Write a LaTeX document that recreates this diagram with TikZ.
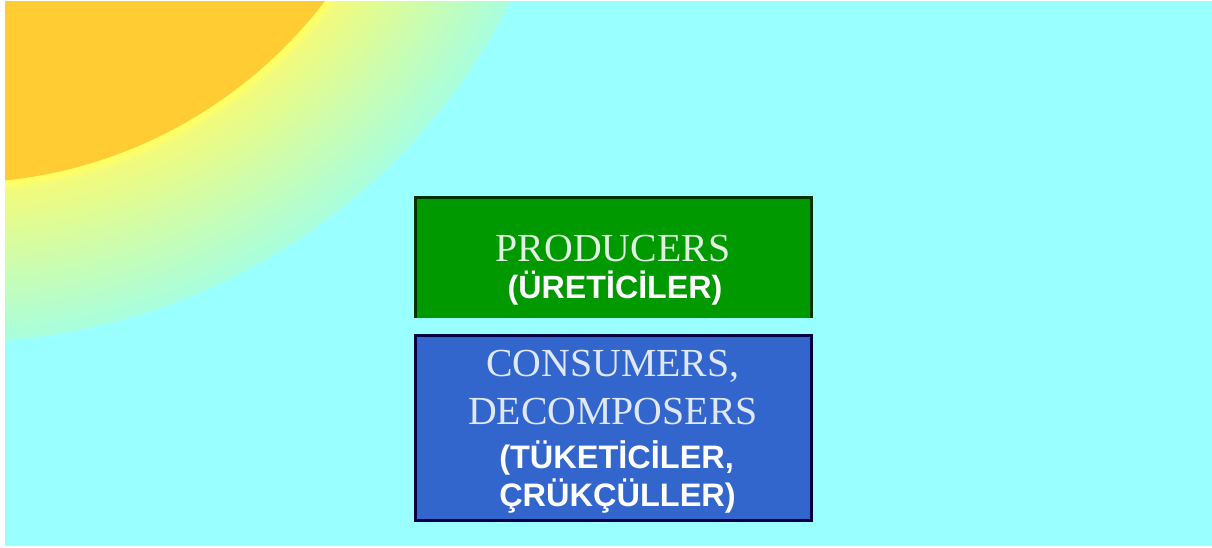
\documentclass[tikz,border=0pt]{standalone}
\usepackage{fontspec}
\setmainfont{Liberation Serif}
\newfontfamily\labelsans{Liberation Sans}
\definecolor{skycol}{HTML}{99FFFF}
\definecolor{suncol}{HTML}{FFCC33}
\definecolor{rimcol}{HTML}{FFFF66}
\definecolor{glowin}{HTML}{F2FB7C}
\definecolor{glowout}{HTML}{A8FEDF}
\definecolor{prodfill}{HTML}{009900}
\definecolor{prodedge}{HTML}{003300}
\definecolor{consfill}{HTML}{3366CC}
\definecolor{consedge}{HTML}{000044}
\tikzset{
  boxbase/.style={rectangle,inner sep=0pt,outer sep=0pt},
  serifline/.style={font=\fontsize{39.8}{47.3}\selectfont,align=center,inner sep=0pt,outer sep=0pt},
  sansline/.style={text=white,font=\labelsans\bfseries\fontsize{32.2}{38.7}\selectfont,align=left,inner sep=0pt,outer sep=0pt}
}
\begin{document}
\begin{tikzpicture}[x=1pt,y=-1pt]
\useasboundingbox (0,0) rectangle (1212,547);
\fill[white] (0,0) rectangle (1212,547);
\fill[skycol] (5,1) rectangle (1212,546);
\begin{scope}
  \clip (5,1) rectangle (1212,546);
  \coordinate (suncentre) at (-43.5,-281);
  \coordinate (glowcentre) at (-44.5,-280);
  \foreach \r [evaluate=\r as \p using {(\r-474)/148.5*100}] in {622.5,621.5,...,474.5}
    \fill[glowout!\p!glowin] (glowcentre) circle[radius=\r pt];
  \foreach \r [evaluate=\r as \p using {(\r-469)/5*100}] in {474,473,...,469}
    \fill[glowin!\p!rimcol] (suncentre) circle[radius=\r pt];
  \fill[suncol] (suncentre) circle[radius=464pt];
\end{scope}
\node[boxbase,fill=prodfill,minimum width=399pt,minimum height=122pt] (prod) at (613.5,257) {};
\draw[prodedge,line width=3pt] ([xshift=1.5pt]prod.south west) |- ([yshift=-1.5pt]prod.north) -| ([xshift=-1.5pt]prod.south east);
\node[boxbase,fill=consfill,draw=consedge,line width=3pt,minimum width=396pt,minimum height=185pt] (cons) at (613.5,428.3) {};
\node[serifline,text=white!88!prodfill,anchor=base] (prodname) at (613,261.7) {PRODUCERS};
\node[sansline,anchor=base] (prodtr) at (615,298.3) {(ÜRETİCİLER)};
\node[serifline,text=white!85!consfill,anchor=base] (consname) at (613,424) {CONSUMERS,\\DECOMPOSERS};
\node[sansline,font=\labelsans\bfseries\fontsize{32.5}{38.7}\selectfont,anchor=base] (constr) at (617.5,506.7) {(TÜKETİCİLER,\\ÇRÜKÇÜLLER)};
\end{tikzpicture}
\end{document}
